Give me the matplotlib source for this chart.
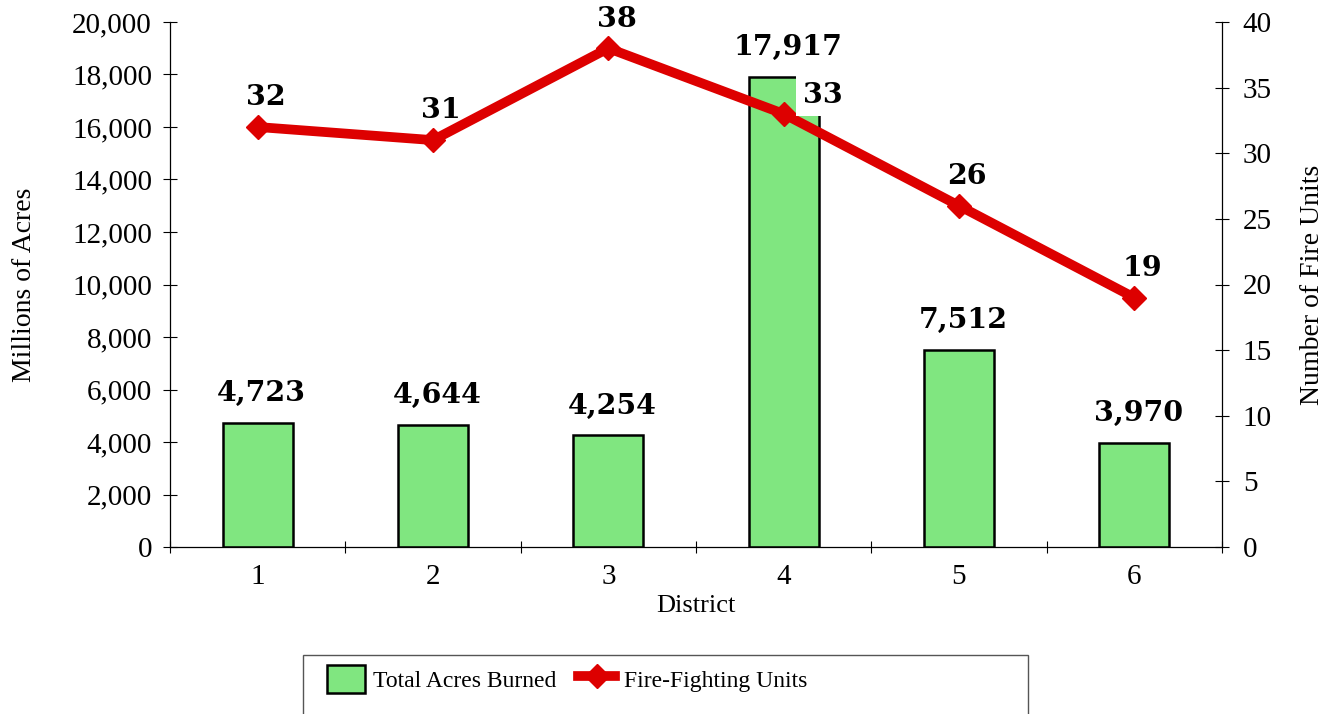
import matplotlib
matplotlib.use("Agg")
import matplotlib.pyplot as plt
from matplotlib.patches import Rectangle
from matplotlib.ticker import FuncFormatter, FixedLocator

districts = ["1", "2", "3", "4", "5", "6"]
acres_burned = [4723, 4644, 4254, 17917, 7512, 3970]
fire_units = [32, 31, 38, 33, 26, 19]

SERIF = "Liberation Serif"
BOLD = "DejaVu Serif"
GREEN = "#80E680"
RED = "#DD0000"

fig = plt.figure(figsize=(13.33, 7.14), dpi=100)
ax = fig.add_axes([170/1333, 1-547/714, (1222-170)/1333, (547-22)/714])
ax2 = ax.twinx()

x = list(range(len(districts)))
bars = ax.bar(x, acres_burned, width=0.4, color=GREEN, edgecolor="black",
              linewidth=1.8, label="Total Acres Burned", zorder=2)
line, = ax2.plot(x, fire_units, color=RED, linewidth=7, marker="D",
                 markersize=12, label="Fire-Fighting Units", zorder=3,
                 solid_joinstyle="miter")

ax.set_xlim(-0.5, len(districts) - 0.5)
ax.set_ylim(0, 20000)
ax2.set_ylim(0, 40)
ax.set_yticks(range(0, 20001, 2000))
ax2.set_yticks(range(0, 41, 5))
ax.yaxis.set_major_formatter(FuncFormatter(lambda v, p: f"{int(v):,}"))

ax.set_xticks(x)
ax.set_xticklabels(districts)
ax.xaxis.set_minor_locator(FixedLocator([i - 0.5 for i in range(len(districts) + 1)]))
ax.tick_params(axis="x", which="major", length=0, pad=12)
ax.tick_params(axis="x", which="minor", direction="inout", length=9, width=0.8)

for a in (ax, ax2):
    for s in a.spines.values():
        s.set_linewidth(0.9)
    a.spines["top"].set_visible(False)
ax.spines["right"].set_visible(False)
ax2.spines["left"].set_visible(False)
ax2.spines["bottom"].set_visible(False)

ax.tick_params(axis="y", direction="inout", length=10, width=0.8, pad=8)
ax2.tick_params(axis="y", direction="inout", length=10, width=0.8, pad=10)

for lab in ax.get_yticklabels() + ax2.get_yticklabels() + ax.get_xticklabels():
    lab.set_fontfamily(SERIF)
    lab.set_fontsize(21)

ax.set_xlabel("District", fontfamily=SERIF, fontsize=19, labelpad=4)
ax.set_ylabel("Millions of Acres", fontfamily=SERIF, fontsize=20, labelpad=25)
ax2.set_ylabel("Number of Fire Units", fontfamily=SERIF, fontsize=20, labelpad=20)

for xi, v in zip(x, acres_burned):
    ax.annotate(f"{v:,}", (xi, v), xytext=(3, 21), textcoords="offset points",
                ha="center", va="center", fontfamily=BOLD, fontweight="heavy",
                fontsize=20.5, annotation_clip=False, zorder=5)

for xi, v in zip(x, fire_units):
    if v == 33:
        ax2.annotate(f"{v}", (xi, v), xytext=(28, 13), textcoords="offset points",
                     ha="center", va="center", fontfamily=BOLD, fontweight="heavy",
                     fontsize=20.5, zorder=6,
                     bbox=dict(boxstyle="square,pad=0.25", fc="white", ec="none"))
    else:
        ax2.annotate(f"{v}", (xi, v), xytext=(6, 21), textcoords="offset points",
                     ha="center", va="center", fontfamily=BOLD, fontweight="heavy",
                     fontsize=20.5, annotation_clip=False, zorder=6)

ax.set_zorder(1)
ax2.set_zorder(2)
ax2.patch.set_visible(False)

# legend frame (extends below the figure edge)
fig.patches.append(Rectangle((303/1333, -0.05), (1028-303)/1333, 0.05 + (714-655)/714,
                             transform=fig.transFigure, fill=False,
                             edgecolor="#555555", linewidth=1.0))
leg = fig.legend(handles=[bars, line], loc="upper left", ncol=2, frameon=False,
                 bbox_to_anchor=(327/1333, 1-665/714),
                 prop={"family": SERIF, "size": 17},
                 handlelength=1.6, handleheight=1.45, columnspacing=0.9,
                 handletextpad=0.35, borderpad=0, borderaxespad=0)

fig.savefig("out.png", dpi=100)
